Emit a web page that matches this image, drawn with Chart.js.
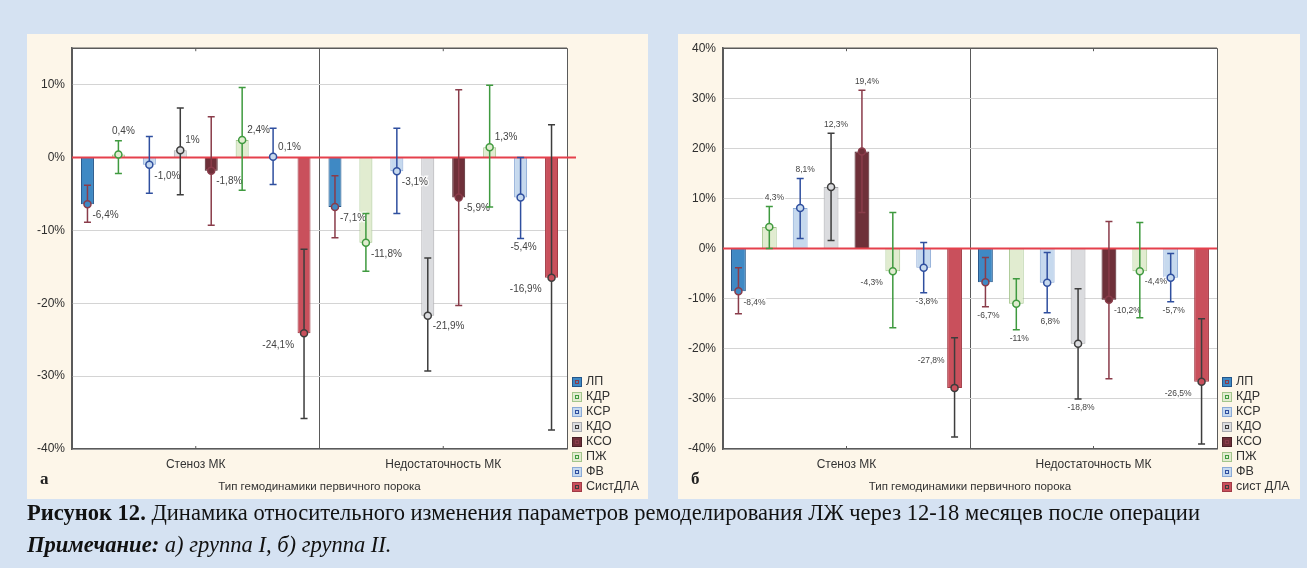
<!DOCTYPE html>
<html>
<head>
<meta charset="utf-8">
<script src="https://cdn.jsdelivr.net/npm/chart.js@4.4.1/dist/chart.umd.min.js"></script>
<style>
    body { margin: 0; width: 1307px; height: 568px; background: #d5e2f2; position: relative; overflow: hidden; }
    .panel { position: absolute; top: 34px; height: 465px; background: #fdf6e9; }
    #panelA { left: 27px; width: 621px; }
    #panelB { left: 678px; width: 622px; }
    #caption { position: absolute; left: 27px; top: 497px; font-family: "Liberation Serif", "Times New Roman", serif;
               font-size: 23px; color: #111; line-height: 32px; white-space: nowrap; transform-origin: 0 0; }
    #caption span { display: inline-block; }
</style>
</head>
<body>
<div class="panel" id="panelA"><canvas id="chartA" width="621" height="465"></canvas></div>
<div class="panel" id="panelB"><canvas id="chartB" width="622" height="465"></canvas></div>
<div id="caption">
    <span id="line1"><b>Рисунок 12.</b> Динамика относительного изменения параметров ремоделирования ЛЖ через 12-18 месяцев после операции</span><br>
    <span><b><i>Примечание:</i></b> <i>а) группа I, б) группа II.</i></span>
</div>
<script>
const groups = ['Стеноз МК', 'Недостаточность МК'];
const axisTitle = 'Тип гемодинамики первичного порока';

const seriesA = ['ЛП', 'КДР', 'КСР', 'КДО', 'КСО', 'ПЖ', 'ФВ', 'СистДЛА'];
const seriesB = ['ЛП', 'КДР', 'КСР', 'КДО', 'КСО', 'ПЖ', 'ФВ', 'сист ДЛА'];

// group I (а): per series [стеноз, недостаточность]
const meanA = [[-6.4, -6.8], [0.4, -11.7], [-1.0, -1.9], [1.0, -21.7], [-1.8, -5.5], [2.4, 1.4], [0.1, -5.5], [-24.1, -16.5]];
const lowA  = [[-8.9, -11.0], [-2.2, -15.6], [-4.9, -7.7], [-5.1, -29.3], [-9.3, -20.3], [-4.5, -6.8], [-3.7, -11.1], [-35.8, -37.4]];
const highA = [[-3.8, -2.5], [2.3, -7.7], [2.9, 4.0], [6.8, -13.8], [5.6, 9.3], [9.6, 9.9], [4.0, 0.0], [-12.6, 4.5]];
const textA = [['-6,4%', '-7,1%'], ['0,4%', '-11,8%'], ['-1,0%', '-3,1%'], ['1%', '-21,9%'], ['-1,8%', '-5,9%'], ['2,4%', '1,3%'], ['0,1%', '-5,4%'], ['-24,1%', '-16,9%']];

// group II (б)
const meanB = [[-8.5, -6.7], [4.3, -11.0], [8.1, -6.8], [12.3, -19.0], [19.4, -10.2], [-4.5, -4.5], [-3.8, -5.8], [-27.8, -26.6]];
const lowB  = [[-13.0, -11.6], [0.0, -16.2], [2.0, -12.8], [1.6, -30.0], [7.2, -26.0], [-15.8, -13.8], [-8.8, -10.6], [-37.6, -39.0]];
const highB = [[-3.8, -1.8], [8.4, -6.0], [14.0, -0.8], [23.0, -8.0], [31.6, 5.4], [7.2, 5.2], [1.2, -1.0], [-17.8, -14.0]];
const textB = [['-8,4%', '-6,7%'], ['4,3%', '-11%'], ['8,1%', '6,8%'], ['12,3%', '-18,8%'], ['19,4%', '-10,2%'], ['-4,3%', '-4,4%'], ['-3,8%', '-5,7%'], ['-27,8%', '-26,5%']];

// where each value label sits (per group, per series)
const anchorsA = [['br', 'top', 'br', 'ar', 'br', 'ar', 'ar', 'bl'], ['br', 'br', 'br', 'br', 'br', 'ar', 'bot', 'bl']];
const anchorsB = [['br', 'top', 'top', 'top', 'top', 'bl', 'bot', 'al'], ['bot', 'bot', 'bot', 'bot', 'br', 'br', 'bot', 'bl']];

const fills    = ['#3f89c4', '#e1ecd0', '#c6d9ee', '#dbdcdf', '#6e3039', '#e1ecd0', '#c6d9ee', '#c9505c'];
const borders  = ['#24568a', '#a3c58b', '#8aa9d6', '#a9aaad', '#4a1f26', '#a3c58b', '#8aa9d6', '#a13a45'];
const whiskers = ['#8a3c4a', '#3f9a3f', '#2f4f9f', '#3d3d3d', '#8a3c4a', '#3f9a3f', '#2f4f9f', '#3d3d3d'];

const fontFamily = '"Liberation Sans", Arial, sans-serif';
Chart.defaults.font.family = fontFamily;

const panelDecor = {
    id: 'panelDecor',
    beforeDraw(chart) {
        const ca = chart.chartArea;
        chart.ctx.save();
        chart.ctx.fillStyle = '#ffffff';
        chart.ctx.fillRect(ca.left, ca.top, ca.right - ca.left, ca.bottom - ca.top);
        chart.ctx.restore();
    },
    afterDatasetsDraw(chart, args, o) {
        const ctx = chart.ctx, ca = chart.chartArea, ys = chart.scales.y;
        const y0 = ys.getPixelForValue(0);
        ctx.save();
        ctx.strokeStyle = '#e5404c';
        ctx.lineWidth = 2;
        ctx.beginPath();
        ctx.moveTo(ca.left, y0);
        ctx.lineTo(ca.right + o.zeroExtend, y0);
        ctx.stroke();

        chart.data.datasets.forEach((ds, i) => {
            chart.getDatasetMeta(i).data.forEach((bar, j) => {
                const x = bar.x;
                const yl = ys.getPixelForValue(o.low[i][j]);
                const yh = ys.getPixelForValue(o.high[i][j]);
                const yv = ys.getPixelForValue(ds.data[j]);

                ctx.strokeStyle = whiskers[i];
                ctx.lineWidth = 1.5;
                ctx.beginPath();
                ctx.moveTo(x, yl); ctx.lineTo(x, yh);
                ctx.moveTo(x - 3.5, yl); ctx.lineTo(x + 3.5, yl);
                ctx.moveTo(x - 3.5, yh); ctx.lineTo(x + 3.5, yh);
                ctx.stroke();
                ctx.beginPath();
                ctx.arc(x, yv, 3.5, 0, Math.PI * 2);
                ctx.fillStyle = fills[i];
                ctx.fill();
                ctx.stroke();

                const a = o.anchors[j][i];
                let tx = x + 5, ty = yv + 11, align = 'left';
                if (a === 'ar') { ty = yv - 10; }
                else if (a === 'bl') { tx = x - 10; ty = yv + 12; align = 'right'; }
                else if (a === 'al') { tx = x - 10; ty = yv - 27; align = 'right'; }
                else if (a === 'top') { tx = x + 5; ty = yh - 9; align = 'center'; }
                else if (a === 'bot') { tx = x + 3; ty = yl + 9; align = 'center'; }

                ctx.font = o.labelSize + 'px ' + fontFamily;
                ctx.textAlign = align;
                ctx.textBaseline = 'middle';
                ctx.lineWidth = 3;
                ctx.strokeStyle = 'rgba(255,255,255,0.85)';
                ctx.strokeText(o.texts[i][j], tx, ty);
                ctx.fillStyle = '#444';
                ctx.fillText(o.texts[i][j], tx, ty);
            });
        });
        ctx.restore();
    },
    afterDraw(chart, args, o) {
        const ctx = chart.ctx, ca = chart.chartArea, H = chart.height;
        ctx.save();
        // top border and small ticks at group centres
        ctx.strokeStyle = '#5a5a5a';
        ctx.lineWidth = 1.5;
        ctx.beginPath();
        ctx.moveTo(ca.left, ca.top);
        ctx.lineTo(ca.right, ca.top);
        ctx.stroke();
        ctx.lineWidth = 1;
        groups.forEach((g, j) => {
            const x = chart.scales.x.getPixelForValue(j);
            ctx.beginPath();
            ctx.moveTo(x, ca.top); ctx.lineTo(x, ca.top + 3);
            ctx.moveTo(x, ca.bottom); ctx.lineTo(x, ca.bottom - 3);
            ctx.stroke();
        });

        // axis title
        ctx.fillStyle = '#333';
        ctx.font = '11.5px ' + fontFamily;
        ctx.textAlign = 'center';
        ctx.textBaseline = 'middle';
        ctx.fillText(axisTitle, (ca.left + ca.right) / 2, H - 12);

        // panel letter
        ctx.font = 'bold 17px "Liberation Serif", serif';
        ctx.textAlign = 'left';
        ctx.textBaseline = 'alphabetic';
        ctx.fillStyle = '#222';
        ctx.fillText(o.letter, 13, H - 15);

        // legend
        const lx = ca.right + 5;
        const names = chart.data.datasets.map(d => d.label);
        names.forEach((n, i) => {
            const cy = H - 12 - (names.length - 1 - i) * 15;
            ctx.fillStyle = fills[i];
            ctx.fillRect(lx, cy - 5, 10, 10);
            ctx.lineWidth = 1;
            ctx.strokeStyle = borders[i];
            ctx.strokeRect(lx + 0.5, cy - 4.5, 9, 9);
            ctx.strokeStyle = whiskers[i];
            ctx.strokeRect(lx + 3.5, cy - 1.5, 3, 3);
            ctx.fillStyle = '#333';
            ctx.font = '12.5px ' + fontFamily;
            ctx.textBaseline = 'middle';
            ctx.fillText(n, lx + 14, cy);
        });
        ctx.restore();
    }
};

function makePanel(canvasId, p) {
    return new Chart(document.getElementById(canvasId), {
        type: 'bar',
        data: {
            labels: groups,
            datasets: p.names.map((n, i) => ({
                label: n,
                data: p.mean[i],
                backgroundColor: fills[i],
                borderColor: borders[i],
                borderWidth: 1,
                barPercentage: p.barPct,
                categoryPercentage: 1
            }))
        },
        options: {
            responsive: false,
            animation: false,
            layout: { padding: { top: 14, right: p.rightPad, left: 0, bottom: 0 } },
            plugins: {
                legend: { display: false },
                tooltip: { enabled: false },
                panelDecor: {
                    low: p.low, high: p.high, texts: p.texts, anchors: p.anchors,
                    labelSize: p.labelSize, letter: p.letter, zeroExtend: p.zeroExtend
                }
            },
            scales: {
                x: {
                    grid: { offset: true, color: '#5a5a5a', lineWidth: 1, drawTicks: false },
                    border: { color: '#5a5a5a', width: 1.5 },
                    ticks: { color: '#333', font: { size: 12 }, padding: 8 },
                    afterFit(s) { s.height = 50; }
                },
                y: {
                    min: p.yMin,
                    max: p.yMax,
                    grid: { color: '#d4d4d4', drawTicks: false },
                    border: { color: '#5a5a5a', width: 1.5 },
                    ticks: { stepSize: 10, color: '#2e2e2e', font: { size: 12 }, padding: 7, callback: v => v + '%' },
                    afterBuildTicks(s) { s.ticks = s.ticks.filter(t => t.value % 10 === 0); },
                    afterFit(s) { s.width = 45; }
                }
            }
        },
        plugins: [panelDecor]
    });
}

makePanel('chartA', {
    names: seriesA, mean: meanA, low: lowA, high: highA, texts: textA, anchors: anchorsA,
    yMin: -40, yMax: 15, barPct: 0.42, rightPad: 81, labelSize: 10, letter: 'а', zeroExtend: 9
});
makePanel('chartB', {
    names: seriesB, mean: meanB, low: lowB, high: highB, texts: textB, anchors: anchorsB,
    yMin: -40, yMax: 40, barPct: 0.48, rightPad: 83, labelSize: 8.5, letter: 'б', zeroExtend: 0
});

// the printed caption is set in a narrow face; stretch ours to the same line length
const line1 = document.getElementById('line1');
const k = 1173 / line1.getBoundingClientRect().width;
document.getElementById('caption').style.transform = 'scaleX(' + k + ')';
</script>
</body>
</html>
